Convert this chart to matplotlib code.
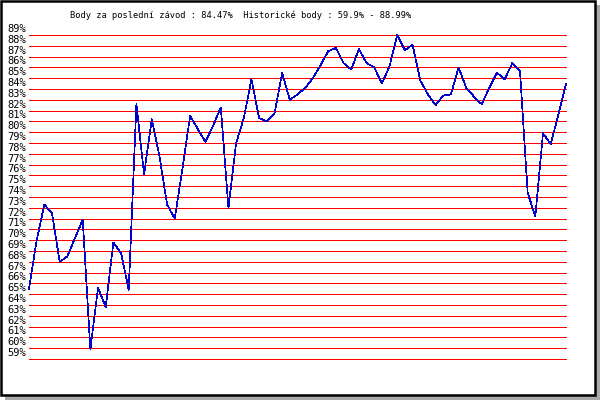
import matplotlib.pyplot as plt
from matplotlib.patches import Rectangle

# points per race (%)
points = [65.5, 70.0, 73.3, 72.5, 68.0, 68.5, 70.2, 71.9, 59.9, 65.6,
          63.8, 69.8, 68.8, 65.4, 82.6, 76.1, 81.2, 77.8, 73.3, 72.0,
          76.6, 81.5, 80.3, 79.1, 80.6, 82.3, 73.0, 79.0, 81.3, 84.9,
          81.3, 81.0, 81.7, 85.5, 83.0, 83.5, 84.1, 85.0, 86.2, 87.5,
          87.8, 86.4, 85.8, 87.7, 86.4, 86.0, 84.5, 86.1, 88.99, 87.6,
          88.1, 84.8, 83.5, 82.5, 83.4, 83.5, 86.0, 84.1, 83.3, 82.6,
          84.1, 85.5, 84.9, 86.4, 85.7, 74.4, 72.2, 79.9, 78.9, 81.6, 84.47]

levels = list(range(59, 90))
level_labels = [str(v) + '%' for v in levels]

title = 'Body za poslední závod : 84.47%  Historické body : 59.9% - 88.99%'

fig = plt.figure(figsize=(6, 4), dpi=100)
fig.patch.set_facecolor('white')

# shadow + black frame
fig.patches.append(Rectangle((5 / 600, 0), 595 / 600, 395 / 400,
                             transform=fig.transFigure, facecolor='#aaaaaa',
                             edgecolor='none', zorder=0))
fig.patches.append(Rectangle((1 / 600, 5.3 / 400), 593.5 / 600, 393.7 / 400,
                             transform=fig.transFigure, facecolor='white',
                             edgecolor='black', lw=1.8, zorder=1))

ax = fig.add_axes([29 / 600, 41 / 400, 537 / 600, 324 / 400])
ax.set_zorder(5)
ax.set_xlim(0, len(points) - 1)
ax.set_ylim(59, 89)
ax.axis('off')

ax.hlines(levels, 0, len(points) - 1, colors='red', lw=0.5,
          clip_on=False, antialiased=False)
ax.plot(range(len(points)), points, color='#0000cc', lw=0.5,
        clip_on=False, antialiased=False)

for v, lab in zip(levels, level_labels):
    ax.annotate(lab, xy=(0, v), xycoords=('axes fraction', 'data'),
                xytext=(-2.2, 2.2), textcoords='offset points',
                ha='right', va='baseline', fontsize=7.5,
                family='DejaVu Sans Mono')

fig.text(241 / 600, 1 - 17.5 / 400, title, ha='center', va='baseline',
         fontsize=6.3, family='DejaVu Sans Mono', zorder=6)

fig.savefig('out.png', dpi=100)
